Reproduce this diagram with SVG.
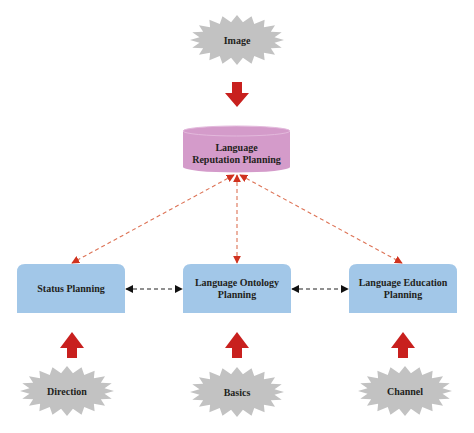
<svg xmlns="http://www.w3.org/2000/svg" width="474" height="433" viewBox="0 0 474 433">
<style>
.t{font-family:"Liberation Serif","Times New Roman",serif;font-weight:bold;font-size:10px;fill:#231f20;text-anchor:middle}
.star{fill:#c2c2c2}
.box{fill:#a2c7e8}
.red{fill:#c8201e}
.rd{stroke:#dd7356;stroke-width:1.1;stroke-dasharray:4,3;fill:none;marker-start:url(#ra);marker-end:url(#ra)}
.bd{stroke:#222;stroke-width:1.1;stroke-dasharray:4,3;fill:none;marker-start:url(#ba);marker-end:url(#ba)}
</style>
<defs>
<path id="sb" d="M47,0 L37.53,2.82 L44.7,7.73 L33.86,8.17 L38.02,14.7 L26.87,12.73 L27.63,20.23 L17.25,16.04 L14.52,23.78 L5.94,17.78 L0,25 L-5.94,17.78 L-14.52,23.78 L-17.25,16.04 L-27.63,20.23 L-26.87,12.73 L-38.02,14.7 L-33.86,8.17 L-44.7,7.73 L-37.53,2.82 L-47,0 L-37.53,-2.82 L-44.7,-7.73 L-33.86,-8.17 L-38.02,-14.7 L-26.87,-12.73 L-27.63,-20.23 L-17.25,-16.04 L-14.52,-23.78 L-5.94,-17.78 L0,-25 L5.94,-17.78 L14.52,-23.78 L17.25,-16.04 L27.63,-20.23 L26.87,-12.73 L38.02,-14.7 L33.86,-8.17 L44.7,-7.73 L37.53,-2.82 Z"/>
<path id="up" d="M0,332 L12,348 L5,348 L5,358 L-5,358 L-5,348 L-12,348 Z"/>
<marker id="ra" viewBox="0 0 10 10" refX="9" refY="5" markerWidth="8" markerHeight="8" orient="auto-start-reverse" markerUnits="userSpaceOnUse">
<path d="M0,0 L10,5 L0,10 Z" fill="#d0321f"/>
</marker>
<marker id="ba" viewBox="0 0 10 10" refX="9" refY="5" markerWidth="8" markerHeight="8" orient="auto-start-reverse" markerUnits="userSpaceOnUse">
<path d="M0,0 L10,5 L0,10 Z" fill="#111"/>
</marker>
</defs>
<rect width="474" height="433" fill="#fff"/>

<g id="connectors">
<path class="red" d="M232,82 L242,82 L242,93 L249,93 L237,107 L225,93 L232,93 Z"/>
<use href="#up" class="red" x="72"/>
<use href="#up" class="red" x="237"/>
<use href="#up" class="red" x="403"/>
<line class="rd" x1="234" y1="175" x2="72" y2="263"/>
<line class="rd" x1="237" y1="175" x2="237" y2="263"/>
<line class="rd" x1="240" y1="175" x2="402" y2="263"/>
<line class="bd" x1="126" y1="289" x2="182" y2="289"/>
<line class="bd" x1="292" y1="289" x2="348" y2="289"/>
</g>

<g id="image">
<use href="#sb" class="star" x="237" y="40"/>
<text class="t" x="237" y="44">Image</text>
</g>

<g id="reputation">
<path d="M183,131 L183,167 A53.5,5.5 0 0 0 290,167 L290,131 Z" fill="#d49bca"/>
<ellipse cx="236.5" cy="131" rx="53.5" ry="5" fill="#d49bca" stroke="#e3b9dc" stroke-width="1"/>
<text class="t" x="236.5" y="151">Language</text>
<text class="t" x="236.5" y="163">Reputation Planning</text>
</g>

<g id="status">
<path class="box" d="M17,313 L17,272 Q17,264 25,264 L117,264 Q125,264 125,272 L125,313 Z"/>
<text class="t" x="71" y="292">Status Planning</text>
</g>

<g id="ontology">
<path class="box" d="M183,313 L183,272 Q183,264 191,264 L283,264 Q291,264 291,272 L291,313 Z"/>
<text class="t" x="237" y="286">Language Ontology</text>
<text class="t" x="237" y="298">Planning</text>
</g>

<g id="education">
<path class="box" d="M349,313 L349,272 Q349,264 357,264 L449,264 Q457,264 457,272 L457,313 Z"/>
<text class="t" x="403" y="286">Language Education</text>
<text class="t" x="403" y="298">Planning</text>
</g>

<g id="direction">
<use href="#sb" class="star" x="67" y="391"/>
<text class="t" x="67" y="395">Direction</text>
</g>

<g id="basics">
<use href="#sb" class="star" x="237" y="392"/>
<text class="t" x="237" y="396">Basics</text>
</g>

<g id="channel">
<use href="#sb" class="star" x="405" y="391"/>
<text class="t" x="405" y="395">Channel</text>
</g>
</svg>
